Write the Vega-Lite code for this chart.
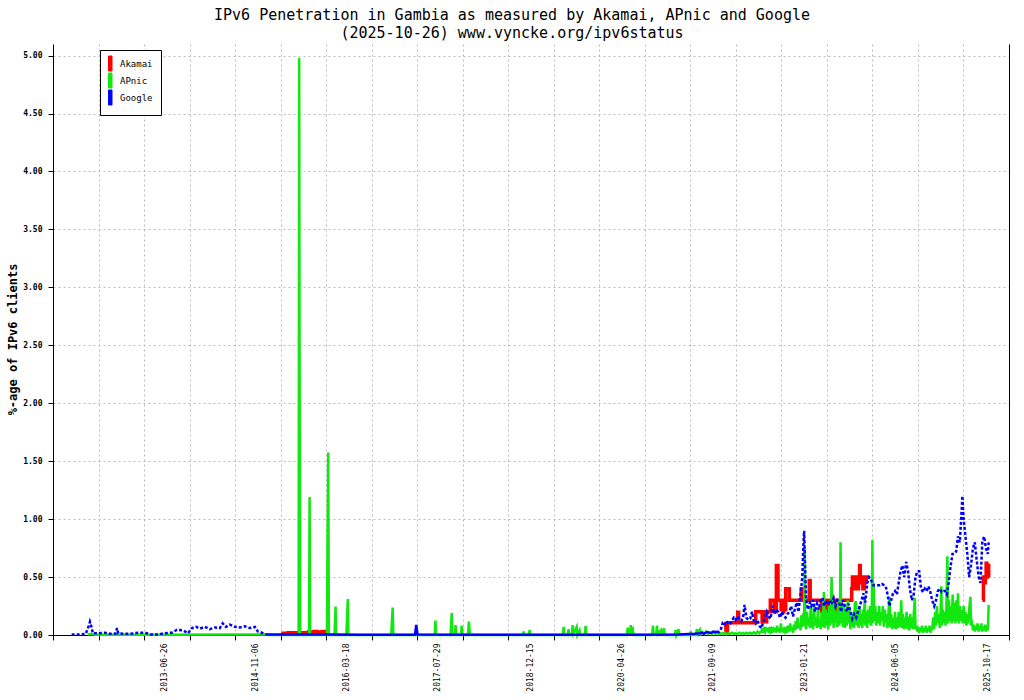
{
"$schema": "https://vega.github.io/schema/vega-lite/v6.json",
"width": 956, "height": 591,
"autosize": {"type": "none"},
"padding": {"left": 53, "top": 44, "right": 15, "bottom": 65},
"background": "white",
"config": {"font": "DejaVu Sans Mono", "view": {"stroke": null}},
"title": {"text": ["IPv6 Penetration in Gambia as measured by Akamai, APnic and Google", "(2025-10-26) www.vyncke.org/ipv6status"], "fontSize": 15, "fontWeight": "normal", "font": "DejaVu Sans Mono", "color": "black", "anchor": "middle", "dx": -19, "offset": 3, "lineHeight": 18},
"datasets": {
"akamai": [
{"date":"2015-03-25","value":0.01,"part":1},{"date":"2015-04-05","value":0.015,"part":1},{"date":"2015-05-01","value":0.02,"part":1},{"date":"2015-05-15","value":0.01,"part":1},{"date":"2015-06-01","value":0.02,"part":1},{"date":"2015-06-20","value":0.015,"part":1},{"date":"2015-07-10","value":0.02,"part":1},{"date":"2015-08-01","value":0.01,"part":1},{"date":"2015-08-20","value":0.025,"part":1},{"date":"2015-09-05","value":0.02,"part":1},{"date":"2015-09-20","value":0.03,"part":1},{"date":"2015-10-05","value":0.02,"part":1},{"date":"2015-10-20","value":0.025,"part":1},{"date":"2015-11-05","value":0.03,"part":1},{"date":"2015-11-20","value":0.02,"part":1},{"date":"2015-12-05","value":0.025,"part":1},
{"date":"2021-11-17","value":0.02,"part":2},{"date":"2021-11-19","value":0.1,"part":2},{"date":"2021-11-21","value":0.03,"part":2},{"date":"2021-11-23","value":0.1,"part":2},{"date":"2021-11-25","value":0.02,"part":2},{"date":"2021-11-28","value":0.106,"part":2},{"date":"2022-01-23","value":0.196,"part":2},{"date":"2022-01-28","value":0.106,"part":2},{"date":"2022-05-01","value":0.2,"part":2},{"date":"2022-06-05","value":0.115,"part":2},{"date":"2022-06-10","value":0.2,"part":2},{"date":"2022-06-15","value":0.115,"part":2},{"date":"2022-06-20","value":0.2,"part":2},{"date":"2022-06-25","value":0.115,"part":2},{"date":"2022-06-30","value":0.2,"part":2},{"date":"2022-07-20","value":0.3,"part":2},{"date":"2022-08-10","value":0.2,"part":2},{"date":"2022-08-22","value":0.6,"part":2},{"date":"2022-08-31","value":0.3,"part":2},{"date":"2022-09-17","value":0.22,"part":2},{"date":"2022-09-22","value":0.3,"part":2},{"date":"2022-09-27","value":0.2,"part":2},{"date":"2022-10-02","value":0.22,"part":2},{"date":"2022-10-12","value":0.4,"part":2},{"date":"2022-11-01","value":0.3,"part":2},{"date":"2023-01-05","value":0.4,"part":2},{"date":"2023-01-20","value":0.3,"part":2},{"date":"2023-02-18","value":0.47,"part":2},{"date":"2023-02-23","value":0.3,"part":2},{"date":"2023-04-25","value":0.2,"part":2},{"date":"2023-05-01","value":0.3,"part":2},{"date":"2023-05-08","value":0.2,"part":2},{"date":"2023-05-15","value":0.3,"part":2},{"date":"2023-05-25","value":0.2,"part":2},{"date":"2023-06-01","value":0.3,"part":2},{"date":"2023-06-12","value":0.2,"part":2},{"date":"2023-06-20","value":0.3,"part":2},{"date":"2023-06-28","value":0.2,"part":2},{"date":"2023-07-05","value":0.3,"part":2},{"date":"2023-07-12","value":0.2,"part":2},{"date":"2023-07-18","value":0.3,"part":2},{"date":"2023-07-25","value":0.2,"part":2},{"date":"2023-08-01","value":0.3,"part":2},{"date":"2023-08-06","value":0.2,"part":2},{"date":"2023-08-11","value":0.3,"part":2},{"date":"2023-10-08","value":0.4,"part":2},{"date":"2023-10-12","value":0.5,"part":2},{"date":"2023-10-17","value":0.4,"part":2},{"date":"2023-10-22","value":0.5,"part":2},{"date":"2023-10-27","value":0.4,"part":2},{"date":"2023-11-02","value":0.5,"part":2},{"date":"2023-11-08","value":0.4,"part":2},{"date":"2023-11-14","value":0.5,"part":2},{"date":"2023-11-20","value":0.6,"part":2},{"date":"2023-11-24","value":0.45,"part":2},{"date":"2023-12-01","value":0.5,"part":2},{"date":"2023-12-08","value":0.4,"part":2},{"date":"2023-12-15","value":0.45,"part":2},{"date":"2023-12-22","value":0.5,"part":2},{"date":"2023-12-27","value":0.45,"part":2},
{"date":"2025-09-22","value":0.3,"part":3},{"date":"2025-09-27","value":0.5,"part":3},{"date":"2025-10-03","value":0.45,"part":3},{"date":"2025-10-08","value":0.5,"part":3},{"date":"2025-10-12","value":0.62,"part":3},{"date":"2025-10-16","value":0.5,"part":3},{"date":"2025-10-20","value":0.6,"part":3},{"date":"2025-10-26","value":0.5,"part":3}
],
"apnic": [
{"date":"2012-05-01","value":0.003},{"date":"2012-05-20","value":0.01},{"date":"2012-06-10","value":0.003},{"date":"2013-06-01","value":0.003},{"date":"2014-06-01","value":0.004},{"date":"2014-12-31","value":0.004},{"date":"2015-01-15","value":0},
{"date":"2015-06-28","value":0},{"date":"2015-07-01","value":4.98},{"date":"2015-07-03","value":2.5},{"date":"2015-07-06","value":0},
{"date":"2015-08-24","value":0},{"date":"2015-08-27","value":1.19},{"date":"2015-08-30","value":0},
{"date":"2015-11-30","value":0},{"date":"2015-12-03","value":0.78},{"date":"2015-12-07","value":1.575},{"date":"2015-12-10","value":0},
{"date":"2016-01-10","value":0},{"date":"2016-01-13","value":0.12},{"date":"2016-01-16","value":0.245},{"date":"2016-01-19","value":0},
{"date":"2016-03-15","value":0},{"date":"2016-03-19","value":0.16},{"date":"2016-03-23","value":0.31},{"date":"2016-03-26","value":0},
{"date":"2016-11-15","value":0},{"date":"2016-11-19","value":0.115},{"date":"2016-11-23","value":0.236},{"date":"2016-11-27","value":0},
{"date":"2017-07-11","value":0},{"date":"2017-07-15","value":0.124},{"date":"2017-07-19","value":0},
{"date":"2017-10-06","value":0},{"date":"2017-10-09","value":0.1},{"date":"2017-10-12","value":0.19},{"date":"2017-10-16","value":0},
{"date":"2017-10-30","value":0},{"date":"2017-11-02","value":0.086},{"date":"2017-11-05","value":0.04},{"date":"2017-11-08","value":0},
{"date":"2017-12-02","value":0},{"date":"2017-12-05","value":0.08},{"date":"2017-12-08","value":0.04},{"date":"2017-12-11","value":0},
{"date":"2018-01-08","value":0},{"date":"2018-01-11","value":0.05},{"date":"2018-01-14","value":0.115},{"date":"2018-01-17","value":0.05},{"date":"2018-01-20","value":0},
{"date":"2018-11-05","value":0},{"date":"2018-11-09","value":0.03},{"date":"2018-11-13","value":0},
{"date":"2018-12-08","value":0},{"date":"2018-12-12","value":0.043},{"date":"2018-12-16","value":0},
{"date":"2019-06-12","value":0},{"date":"2019-06-16","value":0.07},{"date":"2019-06-20","value":0},{"date":"2019-07-09","value":0},{"date":"2019-07-13","value":0.05},{"date":"2019-07-17","value":0},{"date":"2019-07-31","value":0},{"date":"2019-08-04","value":0.086},{"date":"2019-08-08","value":0.01},{"date":"2019-08-26","value":0.07},{"date":"2019-08-30","value":0},{"date":"2019-09-11","value":0.04},{"date":"2019-09-15","value":0},{"date":"2019-10-10","value":0},{"date":"2019-10-14","value":0.078},{"date":"2019-10-18","value":0},
{"date":"2020-05-27","value":0},{"date":"2020-05-31","value":0.063},{"date":"2020-06-04","value":0.02},{"date":"2020-06-14","value":0.02},{"date":"2020-06-17","value":0.086},{"date":"2020-06-21","value":0.03},{"date":"2020-06-28","value":0.05},{"date":"2020-07-02","value":0},
{"date":"2020-10-12","value":0},{"date":"2020-10-16","value":0.08},{"date":"2020-10-20","value":0.01},{"date":"2020-11-03","value":0},{"date":"2020-11-07","value":0.08},{"date":"2020-11-11","value":0.01},{"date":"2020-11-29","value":0.043},{"date":"2020-12-03","value":0},{"date":"2020-12-16","value":0.058},{"date":"2020-12-20","value":0},
{"date":"2021-02-13","value":0},{"date":"2021-02-17","value":0.043},{"date":"2021-02-21","value":0},{"date":"2021-03-05","value":0.05},{"date":"2021-03-09","value":0},{"date":"2021-05-07","value":0},{"date":"2021-05-11","value":0.03},{"date":"2021-05-15","value":0},{"date":"2021-06-09","value":0},{"date":"2021-06-13","value":0.05},{"date":"2021-06-20","value":0.01},{"date":"2021-06-30","value":0.043},{"date":"2021-07-05","value":0.01},
{"date":"2021-07-15","value":0.025},{"date":"2021-07-25","value":0.01},{"date":"2021-08-04","value":0.03},{"date":"2021-08-14","value":0.01},{"date":"2021-08-24","value":0.02},{"date":"2021-09-03","value":0.008},{"date":"2021-09-13","value":0.025},{"date":"2021-09-23","value":0.01},{"date":"2021-10-03","value":0.02},{"date":"2021-10-13","value":0.008},{"date":"2021-10-23","value":0.015},{"date":"2021-11-02","value":0.01},{"date":"2021-11-12","value":0.02},{"date":"2021-11-22","value":0.005},{"date":"2021-12-02","value":0.015},{"date":"2021-12-12","value":0.01},{"date":"2021-12-22","value":0.02},{"date":"2022-01-01","value":0.01},{"date":"2022-01-11","value":0.015},{"date":"2022-01-21","value":0.008},{"date":"2022-01-31","value":0.02},{"date":"2022-02-10","value":0.01},{"date":"2022-02-20","value":0.018},{"date":"2022-03-02","value":0.008},{"date":"2022-03-12","value":0.02},{"date":"2022-03-22","value":0.01},{"date":"2022-04-01","value":0.02},{"date":"2022-04-11","value":0.01},{"date":"2022-04-21","value":0.025},{"date":"2022-05-01","value":0.01},{"date":"2022-05-11","value":0.03},{"date":"2022-05-21","value":0.015},
{"date":"2022-06-01","value":0.03},{"date":"2022-06-06","value":0.06},{"date":"2022-06-11","value":0.02},{"date":"2022-06-16","value":0.05},{"date":"2022-06-21","value":0.03},{"date":"2022-06-26","value":0.07},
{"date":"2022-07-01","value":0.03},{"date":"2022-07-06","value":0.06},{"date":"2022-07-11","value":0.02},{"date":"2022-07-16","value":0.07},{"date":"2022-07-21","value":0.03},{"date":"2022-07-26","value":0.05},
{"date":"2022-08-01","value":0.02},{"date":"2022-08-06","value":0.07},{"date":"2022-08-11","value":0.03},{"date":"2022-08-16","value":0.06},{"date":"2022-08-21","value":0.02},{"date":"2022-08-26","value":0.08},
{"date":"2022-09-01","value":0.03},{"date":"2022-09-06","value":0.06},{"date":"2022-09-11","value":0.02},{"date":"2022-09-16","value":0.1},{"date":"2022-09-21","value":0.03},{"date":"2022-09-26","value":0.06},
{"date":"2022-10-01","value":0.02},{"date":"2022-10-06","value":0.07},{"date":"2022-10-11","value":0.03},{"date":"2022-10-16","value":0.05},{"date":"2022-10-21","value":0.02},{"date":"2022-10-26","value":0.08},
{"date":"2022-11-01","value":0.03},{"date":"2022-11-06","value":0.1},{"date":"2022-11-11","value":0.04},{"date":"2022-11-16","value":0.07},{"date":"2022-11-21","value":0.02},{"date":"2022-11-26","value":0.09},
{"date":"2022-12-01","value":0.04},{"date":"2022-12-06","value":0.12},{"date":"2022-12-11","value":0.05},{"date":"2022-12-16","value":0.15},{"date":"2022-12-21","value":0.06},{"date":"2022-12-26","value":0.1},
{"date":"2023-01-01","value":0.04},{"date":"2023-01-06","value":0.17},{"date":"2023-01-11","value":0.07},{"date":"2023-01-16","value":0.19},{"date":"2023-01-21","value":0.08},{"date":"2023-01-24","value":0.76},{"date":"2023-01-27","value":0.1},
{"date":"2023-02-01","value":0.05},{"date":"2023-02-06","value":0.2},{"date":"2023-02-11","value":0.08},{"date":"2023-02-16","value":0.15},{"date":"2023-02-21","value":0.06},{"date":"2023-02-26","value":0.25},
{"date":"2023-03-01","value":0.07},{"date":"2023-03-06","value":0.18},{"date":"2023-03-11","value":0.05},{"date":"2023-03-16","value":0.27},{"date":"2023-03-21","value":0.08},{"date":"2023-03-26","value":0.15},
{"date":"2023-04-01","value":0.06},{"date":"2023-04-06","value":0.22},{"date":"2023-04-11","value":0.07},{"date":"2023-04-16","value":0.14},{"date":"2023-04-21","value":0.05},{"date":"2023-04-26","value":0.2},
{"date":"2023-05-01","value":0.07},{"date":"2023-05-05","value":0.15},{"date":"2023-05-09","value":0.37},{"date":"2023-05-13","value":0.06},{"date":"2023-05-18","value":0.22},{"date":"2023-05-23","value":0.08},{"date":"2023-05-28","value":0.18},
{"date":"2023-06-01","value":0.05},{"date":"2023-06-06","value":0.25},{"date":"2023-06-11","value":0.08},{"date":"2023-06-16","value":0.17},{"date":"2023-06-20","value":0.5},{"date":"2023-06-24","value":0.1},{"date":"2023-06-28","value":0.2},
{"date":"2023-07-01","value":0.06},{"date":"2023-07-06","value":0.28},{"date":"2023-07-11","value":0.1},{"date":"2023-07-16","value":0.2},{"date":"2023-07-21","value":0.07},{"date":"2023-07-26","value":0.3},
{"date":"2023-08-01","value":0.08},{"date":"2023-08-05","value":0.2},{"date":"2023-08-08","value":0.8},{"date":"2023-08-11","value":0.1},{"date":"2023-08-16","value":0.25},{"date":"2023-08-21","value":0.07},{"date":"2023-08-26","value":0.27},
{"date":"2023-09-01","value":0.06},{"date":"2023-09-06","value":0.2},{"date":"2023-09-11","value":0.08},{"date":"2023-09-16","value":0.3},{"date":"2023-09-21","value":0.1},{"date":"2023-09-26","value":0.22},
{"date":"2023-10-01","value":0.05},{"date":"2023-10-06","value":0.2},{"date":"2023-10-11","value":0.07},{"date":"2023-10-16","value":0.18},{"date":"2023-10-21","value":0.06},{"date":"2023-10-25","value":0.27},{"date":"2023-10-31","value":0.29},
{"date":"2023-11-05","value":0.08},{"date":"2023-11-10","value":0.2},{"date":"2023-11-15","value":0.06},{"date":"2023-11-20","value":0.25},{"date":"2023-11-25","value":0.08},{"date":"2023-11-30","value":0.18},
{"date":"2023-12-05","value":0.06},{"date":"2023-12-10","value":0.22},{"date":"2023-12-14","value":0.1},{"date":"2023-12-18","value":0.33},{"date":"2023-12-22","value":0.08},{"date":"2023-12-27","value":0.2},
{"date":"2024-01-01","value":0.06},{"date":"2024-01-06","value":0.22},{"date":"2024-01-11","value":0.1},{"date":"2024-01-16","value":0.25},{"date":"2024-01-21","value":0.08},{"date":"2024-01-26","value":0.2},{"date":"2024-01-29","value":0.82},
{"date":"2024-02-01","value":0.1},{"date":"2024-02-05","value":0.45},{"date":"2024-02-09","value":0.12},{"date":"2024-02-14","value":0.25},{"date":"2024-02-19","value":0.08},{"date":"2024-02-24","value":0.2},
{"date":"2024-03-01","value":0.1},{"date":"2024-03-06","value":0.25},{"date":"2024-03-11","value":0.08},{"date":"2024-03-16","value":0.2},{"date":"2024-03-21","value":0.12},{"date":"2024-03-26","value":0.25},
{"date":"2024-04-01","value":0.07},{"date":"2024-04-06","value":0.22},{"date":"2024-04-11","value":0.1},{"date":"2024-04-16","value":0.18},{"date":"2024-04-21","value":0.06},{"date":"2024-04-26","value":0.2},
{"date":"2024-05-02","value":0.33},{"date":"2024-05-06","value":0.07},{"date":"2024-05-11","value":0.18},{"date":"2024-05-16","value":0.05},{"date":"2024-05-21","value":0.15},{"date":"2024-05-26","value":0.06},
{"date":"2024-06-01","value":0.2},{"date":"2024-06-06","value":0.05},{"date":"2024-06-11","value":0.15},{"date":"2024-06-16","value":0.06},{"date":"2024-06-21","value":0.2},{"date":"2024-06-26","value":0.07},
{"date":"2024-07-01","value":0.12},{"date":"2024-07-05","value":0.3},{"date":"2024-07-09","value":0.06},{"date":"2024-07-14","value":0.18},{"date":"2024-07-19","value":0.05},{"date":"2024-07-24","value":0.15},{"date":"2024-07-29","value":0.06},
{"date":"2024-08-03","value":0.2},{"date":"2024-08-08","value":0.05},{"date":"2024-08-13","value":0.16},{"date":"2024-08-18","value":0.04},{"date":"2024-08-23","value":0.18},{"date":"2024-08-28","value":0.06},
{"date":"2024-09-02","value":0.15},{"date":"2024-09-07","value":0.05},{"date":"2024-09-12","value":0.2},{"date":"2024-09-17","value":0.32},{"date":"2024-09-21","value":0.05},{"date":"2024-09-26","value":0.08},
{"date":"2024-10-01","value":0.03},{"date":"2024-10-06","value":0.07},{"date":"2024-10-11","value":0.02},{"date":"2024-10-16","value":0.06},{"date":"2024-10-21","value":0.03},{"date":"2024-10-26","value":0.08},
{"date":"2024-11-01","value":0.02},{"date":"2024-11-06","value":0.06},{"date":"2024-11-11","value":0.03},{"date":"2024-11-16","value":0.08},{"date":"2024-11-21","value":0.02},{"date":"2024-11-26","value":0.06},
{"date":"2024-12-01","value":0.03},{"date":"2024-12-06","value":0.08},{"date":"2024-12-11","value":0.02},{"date":"2024-12-16","value":0.07},{"date":"2024-12-21","value":0.04},{"date":"2024-12-26","value":0.15},
{"date":"2025-01-01","value":0.05},{"date":"2025-01-06","value":0.2},{"date":"2025-01-11","value":0.08},{"date":"2025-01-16","value":0.25},{"date":"2025-01-21","value":0.1},{"date":"2025-01-26","value":0.18},
{"date":"2025-02-01","value":0.06},{"date":"2025-02-05","value":0.2},{"date":"2025-02-09","value":0.42},{"date":"2025-02-13","value":0.08},{"date":"2025-02-18","value":0.22},{"date":"2025-02-23","value":0.1},{"date":"2025-02-28","value":0.2},
{"date":"2025-03-04","value":0.08},{"date":"2025-03-09","value":0.25},{"date":"2025-03-14","value":0.68},{"date":"2025-03-18","value":0.1},{"date":"2025-03-23","value":0.3},{"date":"2025-03-28","value":0.12},
{"date":"2025-04-02","value":0.25},{"date":"2025-04-07","value":0.1},{"date":"2025-04-12","value":0.35},{"date":"2025-04-17","value":0.12},{"date":"2025-04-22","value":0.28},{"date":"2025-04-27","value":0.1},
{"date":"2025-05-02","value":0.3},{"date":"2025-05-07","value":0.12},{"date":"2025-05-11","value":0.36},{"date":"2025-05-16","value":0.1},{"date":"2025-05-21","value":0.25},{"date":"2025-05-26","value":0.12},
{"date":"2025-06-01","value":0.22},{"date":"2025-06-06","value":0.1},{"date":"2025-06-11","value":0.25},{"date":"2025-06-16","value":0.1},{"date":"2025-06-21","value":0.2},{"date":"2025-06-26","value":0.08},
{"date":"2025-07-01","value":0.18},{"date":"2025-07-06","value":0.1},{"date":"2025-07-11","value":0.22},{"date":"2025-07-18","value":0.33},{"date":"2025-07-22","value":0.08},{"date":"2025-07-27","value":0.1},
{"date":"2025-08-01","value":0.04},{"date":"2025-08-06","value":0.09},{"date":"2025-08-11","value":0.03},{"date":"2025-08-16","value":0.08},{"date":"2025-08-21","value":0.04},{"date":"2025-08-26","value":0.1},
{"date":"2025-09-01","value":0.03},{"date":"2025-09-06","value":0.08},{"date":"2025-09-11","value":0.04},{"date":"2025-09-16","value":0.1},{"date":"2025-09-21","value":0.03},{"date":"2025-09-26","value":0.07},
{"date":"2025-10-01","value":0.04},{"date":"2025-10-06","value":0.09},{"date":"2025-10-11","value":0.03},{"date":"2025-10-16","value":0.08},{"date":"2025-10-21","value":0.04},{"date":"2025-10-26","value":0.26}
],
"google_2012": [
{"date":"2012-02-03","value":0.005},{"date":"2012-03-18","value":0.005},{"date":"2012-04-20","value":0.01},{"date":"2012-05-07","value":0.08},{"date":"2012-05-13","value":0.115},{"date":"2012-05-18","value":0.09},{"date":"2012-05-29","value":0.015},{"date":"2012-06-25","value":0.015},{"date":"2012-08-03","value":0.02},{"date":"2012-08-30","value":0.01},{"date":"2012-09-30","value":0.012},{"date":"2012-10-08","value":0.06},{"date":"2012-10-15","value":0.015},{"date":"2012-11-20","value":0.01},{"date":"2012-12-19","value":0.01},{"date":"2013-02-01","value":0.02},{"date":"2013-03-11","value":0.02},{"date":"2013-04-08","value":0.005},{"date":"2013-05-22","value":0.005},{"date":"2013-06-26","value":0.015},{"date":"2013-08-04","value":0.02},{"date":"2013-09-01","value":0.045},{"date":"2013-10-03","value":0.04},{"date":"2013-10-31","value":0.015},{"date":"2013-11-22","value":0.06},{"date":"2013-12-14","value":0.07},{"date":"2014-01-03","value":0.055},{"date":"2014-01-31","value":0.07},{"date":"2014-02-27","value":0.05},{"date":"2014-03-26","value":0.065},{"date":"2014-04-23","value":0.06},{"date":"2014-05-09","value":0.1},{"date":"2014-05-26","value":0.07},{"date":"2014-06-17","value":0.09},{"date":"2014-07-14","value":0.07},{"date":"2014-08-11","value":0.065},{"date":"2014-09-07","value":0.075},{"date":"2014-10-04","value":0.06},{"date":"2014-11-01","value":0.07},{"date":"2014-11-17","value":0.03},{"date":"2014-12-09","value":0.02},{"date":"2014-12-31","value":0.005}
],
"google_flat": [
{"date":"2014-12-31","value":0.005},{"date":"2015-06-01","value":0.005},{"date":"2015-12-01","value":0.005},{"date":"2016-06-01","value":0.003},{"date":"2017-03-25","value":0.003},{"date":"2017-04-01","value":0.086},{"date":"2017-04-08","value":0.005},{"date":"2018-06-01","value":0.003},{"date":"2019-06-01","value":0.003},{"date":"2020-06-01","value":0.003},{"date":"2021-03-01","value":0.005},{"date":"2021-06-01","value":0.01},{"date":"2021-07-01","value":0.015},{"date":"2021-07-11","value":0.02},{"date":"2021-07-21","value":0.01},{"date":"2021-08-01","value":0.02},{"date":"2021-08-11","value":0.025},{"date":"2021-08-21","value":0.02},{"date":"2021-09-01","value":0.02},{"date":"2021-09-11","value":0.03},{"date":"2021-09-21","value":0.025},{"date":"2021-10-01","value":0.03}
],
"google": [
{"date":"2021-10-01","value":0.03},{"date":"2021-10-11","value":0.025},{"date":"2021-10-21","value":0.04},{"date":"2021-11-01","value":0.1},{"date":"2021-11-11","value":0.08},{"date":"2021-11-21","value":0.12},{"date":"2021-12-01","value":0.1},{"date":"2021-12-11","value":0.09},{"date":"2021-12-21","value":0.12},
{"date":"2022-01-01","value":0.15},{"date":"2022-01-11","value":0.13},{"date":"2022-01-21","value":0.16},{"date":"2022-02-01","value":0.14},{"date":"2022-02-11","value":0.12},{"date":"2022-02-21","value":0.15},{"date":"2022-03-01","value":0.26},{"date":"2022-03-11","value":0.15},{"date":"2022-03-21","value":0.13},{"date":"2022-04-01","value":0.14},{"date":"2022-04-11","value":0.2},{"date":"2022-04-21","value":0.12},{"date":"2022-05-01","value":0.1},{"date":"2022-05-11","value":0.13},{"date":"2022-05-21","value":0.08},{"date":"2022-06-01","value":0.06},{"date":"2022-06-11","value":0.11},{"date":"2022-06-21","value":0.15},{"date":"2022-07-01","value":0.2},{"date":"2022-07-11","value":0.16},{"date":"2022-07-21","value":0.14},{"date":"2022-08-01","value":0.25},{"date":"2022-08-11","value":0.18},{"date":"2022-08-21","value":0.22},{"date":"2022-09-01","value":0.2},{"date":"2022-09-11","value":0.15},{"date":"2022-09-21","value":0.2},{"date":"2022-10-01","value":0.17},{"date":"2022-10-11","value":0.15},{"date":"2022-10-21","value":0.18},{"date":"2022-11-01","value":0.2},{"date":"2022-11-11","value":0.25},{"date":"2022-11-21","value":0.16},{"date":"2022-12-01","value":0.22},{"date":"2022-12-11","value":0.28},{"date":"2022-12-21","value":0.2},
{"date":"2023-01-01","value":0.35},{"date":"2023-01-11","value":0.5},{"date":"2023-01-16","value":0.75},{"date":"2023-01-21","value":0.9},{"date":"2023-01-26","value":0.6},{"date":"2023-02-01","value":0.3},{"date":"2023-02-11","value":0.22},{"date":"2023-02-21","value":0.28},{"date":"2023-03-01","value":0.25},{"date":"2023-03-11","value":0.3},{"date":"2023-03-21","value":0.2},{"date":"2023-04-01","value":0.27},{"date":"2023-04-11","value":0.22},{"date":"2023-04-21","value":0.3},{"date":"2023-05-01","value":0.32},{"date":"2023-05-11","value":0.25},{"date":"2023-05-21","value":0.3},{"date":"2023-06-01","value":0.26},{"date":"2023-06-11","value":0.3},{"date":"2023-06-21","value":0.28},{"date":"2023-07-01","value":0.32},{"date":"2023-07-11","value":0.25},{"date":"2023-07-21","value":0.3},{"date":"2023-08-01","value":0.28},{"date":"2023-08-11","value":0.2},{"date":"2023-08-21","value":0.3},{"date":"2023-09-01","value":0.25},{"date":"2023-09-11","value":0.2},{"date":"2023-09-21","value":0.27},{"date":"2023-10-01","value":0.2},{"date":"2023-10-11","value":0.14},{"date":"2023-10-21","value":0.18},{"date":"2023-11-01","value":0.15},{"date":"2023-11-11","value":0.2},{"date":"2023-11-21","value":0.25},{"date":"2023-12-01","value":0.3},{"date":"2023-12-11","value":0.36},{"date":"2023-12-21","value":0.28},
{"date":"2024-01-01","value":0.45},{"date":"2024-01-11","value":0.5},{"date":"2024-01-21","value":0.48},{"date":"2024-02-01","value":0.43},{"date":"2024-02-11","value":0.43},{"date":"2024-02-21","value":0.43},{"date":"2024-03-01","value":0.43},{"date":"2024-03-11","value":0.43},{"date":"2024-03-21","value":0.44},{"date":"2024-04-01","value":0.43},{"date":"2024-04-11","value":0.42},{"date":"2024-04-21","value":0.35},{"date":"2024-05-01","value":0.25},{"date":"2024-05-11","value":0.3},{"date":"2024-05-21","value":0.36},{"date":"2024-06-01","value":0.38},{"date":"2024-06-11","value":0.35},{"date":"2024-06-21","value":0.45},{"date":"2024-07-01","value":0.55},{"date":"2024-07-11","value":0.6},{"date":"2024-07-21","value":0.5},{"date":"2024-08-01","value":0.63},{"date":"2024-08-11","value":0.55},{"date":"2024-08-21","value":0.4},{"date":"2024-09-01","value":0.3},{"date":"2024-09-11","value":0.35},{"date":"2024-09-21","value":0.5},{"date":"2024-10-01","value":0.55},{"date":"2024-10-11","value":0.55},{"date":"2024-10-21","value":0.4},{"date":"2024-11-01","value":0.37},{"date":"2024-11-11","value":0.4},{"date":"2024-11-21","value":0.38},{"date":"2024-12-01","value":0.42},{"date":"2024-12-11","value":0.37},{"date":"2024-12-21","value":0.3},
{"date":"2025-01-01","value":0.25},{"date":"2025-01-11","value":0.3},{"date":"2025-01-21","value":0.38},{"date":"2025-02-01","value":0.4},{"date":"2025-02-11","value":0.37},{"date":"2025-02-21","value":0.38},{"date":"2025-03-01","value":0.38},{"date":"2025-03-11","value":0.35},{"date":"2025-03-21","value":0.45},{"date":"2025-04-01","value":0.6},{"date":"2025-04-11","value":0.7},{"date":"2025-04-21","value":0.7},{"date":"2025-05-01","value":0.72},{"date":"2025-05-11","value":0.85},{"date":"2025-05-21","value":0.8},{"date":"2025-06-01","value":1.1},{"date":"2025-06-04","value":1.2},{"date":"2025-06-11","value":1.0},{"date":"2025-06-21","value":0.85},{"date":"2025-07-01","value":0.7},{"date":"2025-07-11","value":0.5},{"date":"2025-07-21","value":0.6},{"date":"2025-08-01","value":0.75},{"date":"2025-08-11","value":0.8},{"date":"2025-08-21","value":0.65},{"date":"2025-09-01","value":0.5},{"date":"2025-09-11","value":0.45},{"date":"2025-09-21","value":0.8},{"date":"2025-10-01","value":0.85},{"date":"2025-10-11","value":0.75},{"date":"2025-10-21","value":0.7},{"date":"2025-10-26","value":0.8}
]
},
"encoding": {
"x": {"field": "date", "type": "temporal", "scale": {"domain": [1319414400000, 1771027200000]},
 "axis": {"title": null,
  "values": [1319414400000,1340928000000,1362441600000,1383955200000,1405468800000,1426982400000,1448409600000,1469923200000,1491436800000,1512950400000,1534464000000,1555977600000,1577491200000,1599004800000,1620518400000,1642032000000,1663459200000,1684972800000,1706486400000,1728000000000,1749513600000,1771027200000,1372204800000,1415232000000,1458259200000,1501286400000,1544832000000,1587859200000,1631145600000,1674259200000,1717545600000,1760659200000],
  "labelExpr": "indexof([15882,16380,16878,17376,17880,18378,18879,19378,19879,20378], round(datum.value/86400000)) >= 0 ? utcFormat(datum.value, '%Y-%m-%d') : ''",
  "labelAngle": 270, "labelFontSize": 8, "labelColor": "black", "labelPadding": 3, "labelOverlap": false, "labelBound": false, "labelFlush": false,
  "tickSize": 5, "tickColor": "black",
  "tickOpacity": {"condition": {"test": "indexof([15882,16380,16878,17376,17880,18378,18879,19378,19879,20378], round(datum.value/86400000)) >= 0", "value": 0}, "value": 1},
  "grid": true, "gridColor": "#bbbbbb", "gridDash": [2, 3],
  "gridOpacity": {"condition": {"test": "indexof([15882,16380,16878,17376,17880,18378,18879,19378,19879,20378], round(datum.value/86400000)) >= 0", "value": 0}, "value": 1},
  "domainColor": "black"}},
"y": {"field": "value", "type": "quantitative", "scale": {"domain": [0, 5.1], "nice": false},
 "axis": {"values": [0,0.5,1,1.5,2,2.5,3,3.5,4,4.5,5], "format": ".2f", "labelFontSize": 8, "labelFontWeight": "bold", "labelColor": "black", "labelPadding": 6,
  "tickSize": 5, "tickColor": "black", "domainColor": "black", "grid": true, "gridColor": "#bbbbbb", "gridDash": [2, 3],
  "title": "%-age of IPv6 clients", "titleFontSize": 12, "titleFontWeight": "bold", "titleColor": "black", "titleX": -41, "titleY": 295, "titleAngle": 270, "titleAlign": "center", "titleBaseline": "middle"}}
},
"layer": [
 {"layer": [
  {"data": {"name": "akamai"}, "mark": {"type": "line", "interpolate": "step-after", "strokeWidth": 3.5},
   "encoding": {"detail": {"field": "part", "type": "nominal"},
    "color": {"datum": "Akamai", "scale": {"domain": ["Akamai", "APnic", "Google"], "range": ["#ff0000", "#10e810", "#0000ff"]},
     "legend": {"title": null, "orient": "none", "legendX": 47, "legendY": 6, "symbolType": "M-1,-1.5H-0.3V1.5H-1Z", "symbolSize": 100,
      "symbolStrokeColor": "black", "symbolStrokeWidth": 1, "strokeColor": "black", "fillColor": "white", "padding": 8,
      "labelFontSize": 9, "labelFont": "DejaVu Sans Mono", "labelColor": "black", "rowPadding": -2, "labelOffset": 1,
      "encode": {"symbols": {"update": {"fill": {"scale": "color", "field": "value"}, "stroke": {"value": "black"}, "strokeWidth": {"value": 1}, "strokeDash": {"value": []}, "opacity": {"value": 1}}}}}}}},
  {"data": {"name": "apnic"}, "mark": {"type": "line", "strokeWidth": 2.5}, "encoding": {"color": {"datum": "APnic"}}},
  {"data": {"name": "google_2012"}, "mark": {"type": "line", "strokeWidth": 2.5, "strokeDash": [3, 2]}, "encoding": {"color": {"datum": "Google"}}},
  {"data": {"name": "google_flat"}, "mark": {"type": "line", "strokeWidth": 2.5}, "encoding": {"color": {"datum": "Google"}}}
 ]},
 {"data": {"name": "google"}, "mark": {"type": "line", "strokeWidth": 2.5, "strokeDash": [3, 2]},
  "encoding": {"color": {"datum": "Google"},
   "y": {"field": "value", "type": "quantitative", "scale": {"domain": [0, 5.1], "nice": false},
    "axis": {"orient": "right", "labels": false, "ticks": false, "grid": false, "domainColor": "black", "title": null}}}}
],
"resolve": {"axis": {"y": "independent"}}
}
